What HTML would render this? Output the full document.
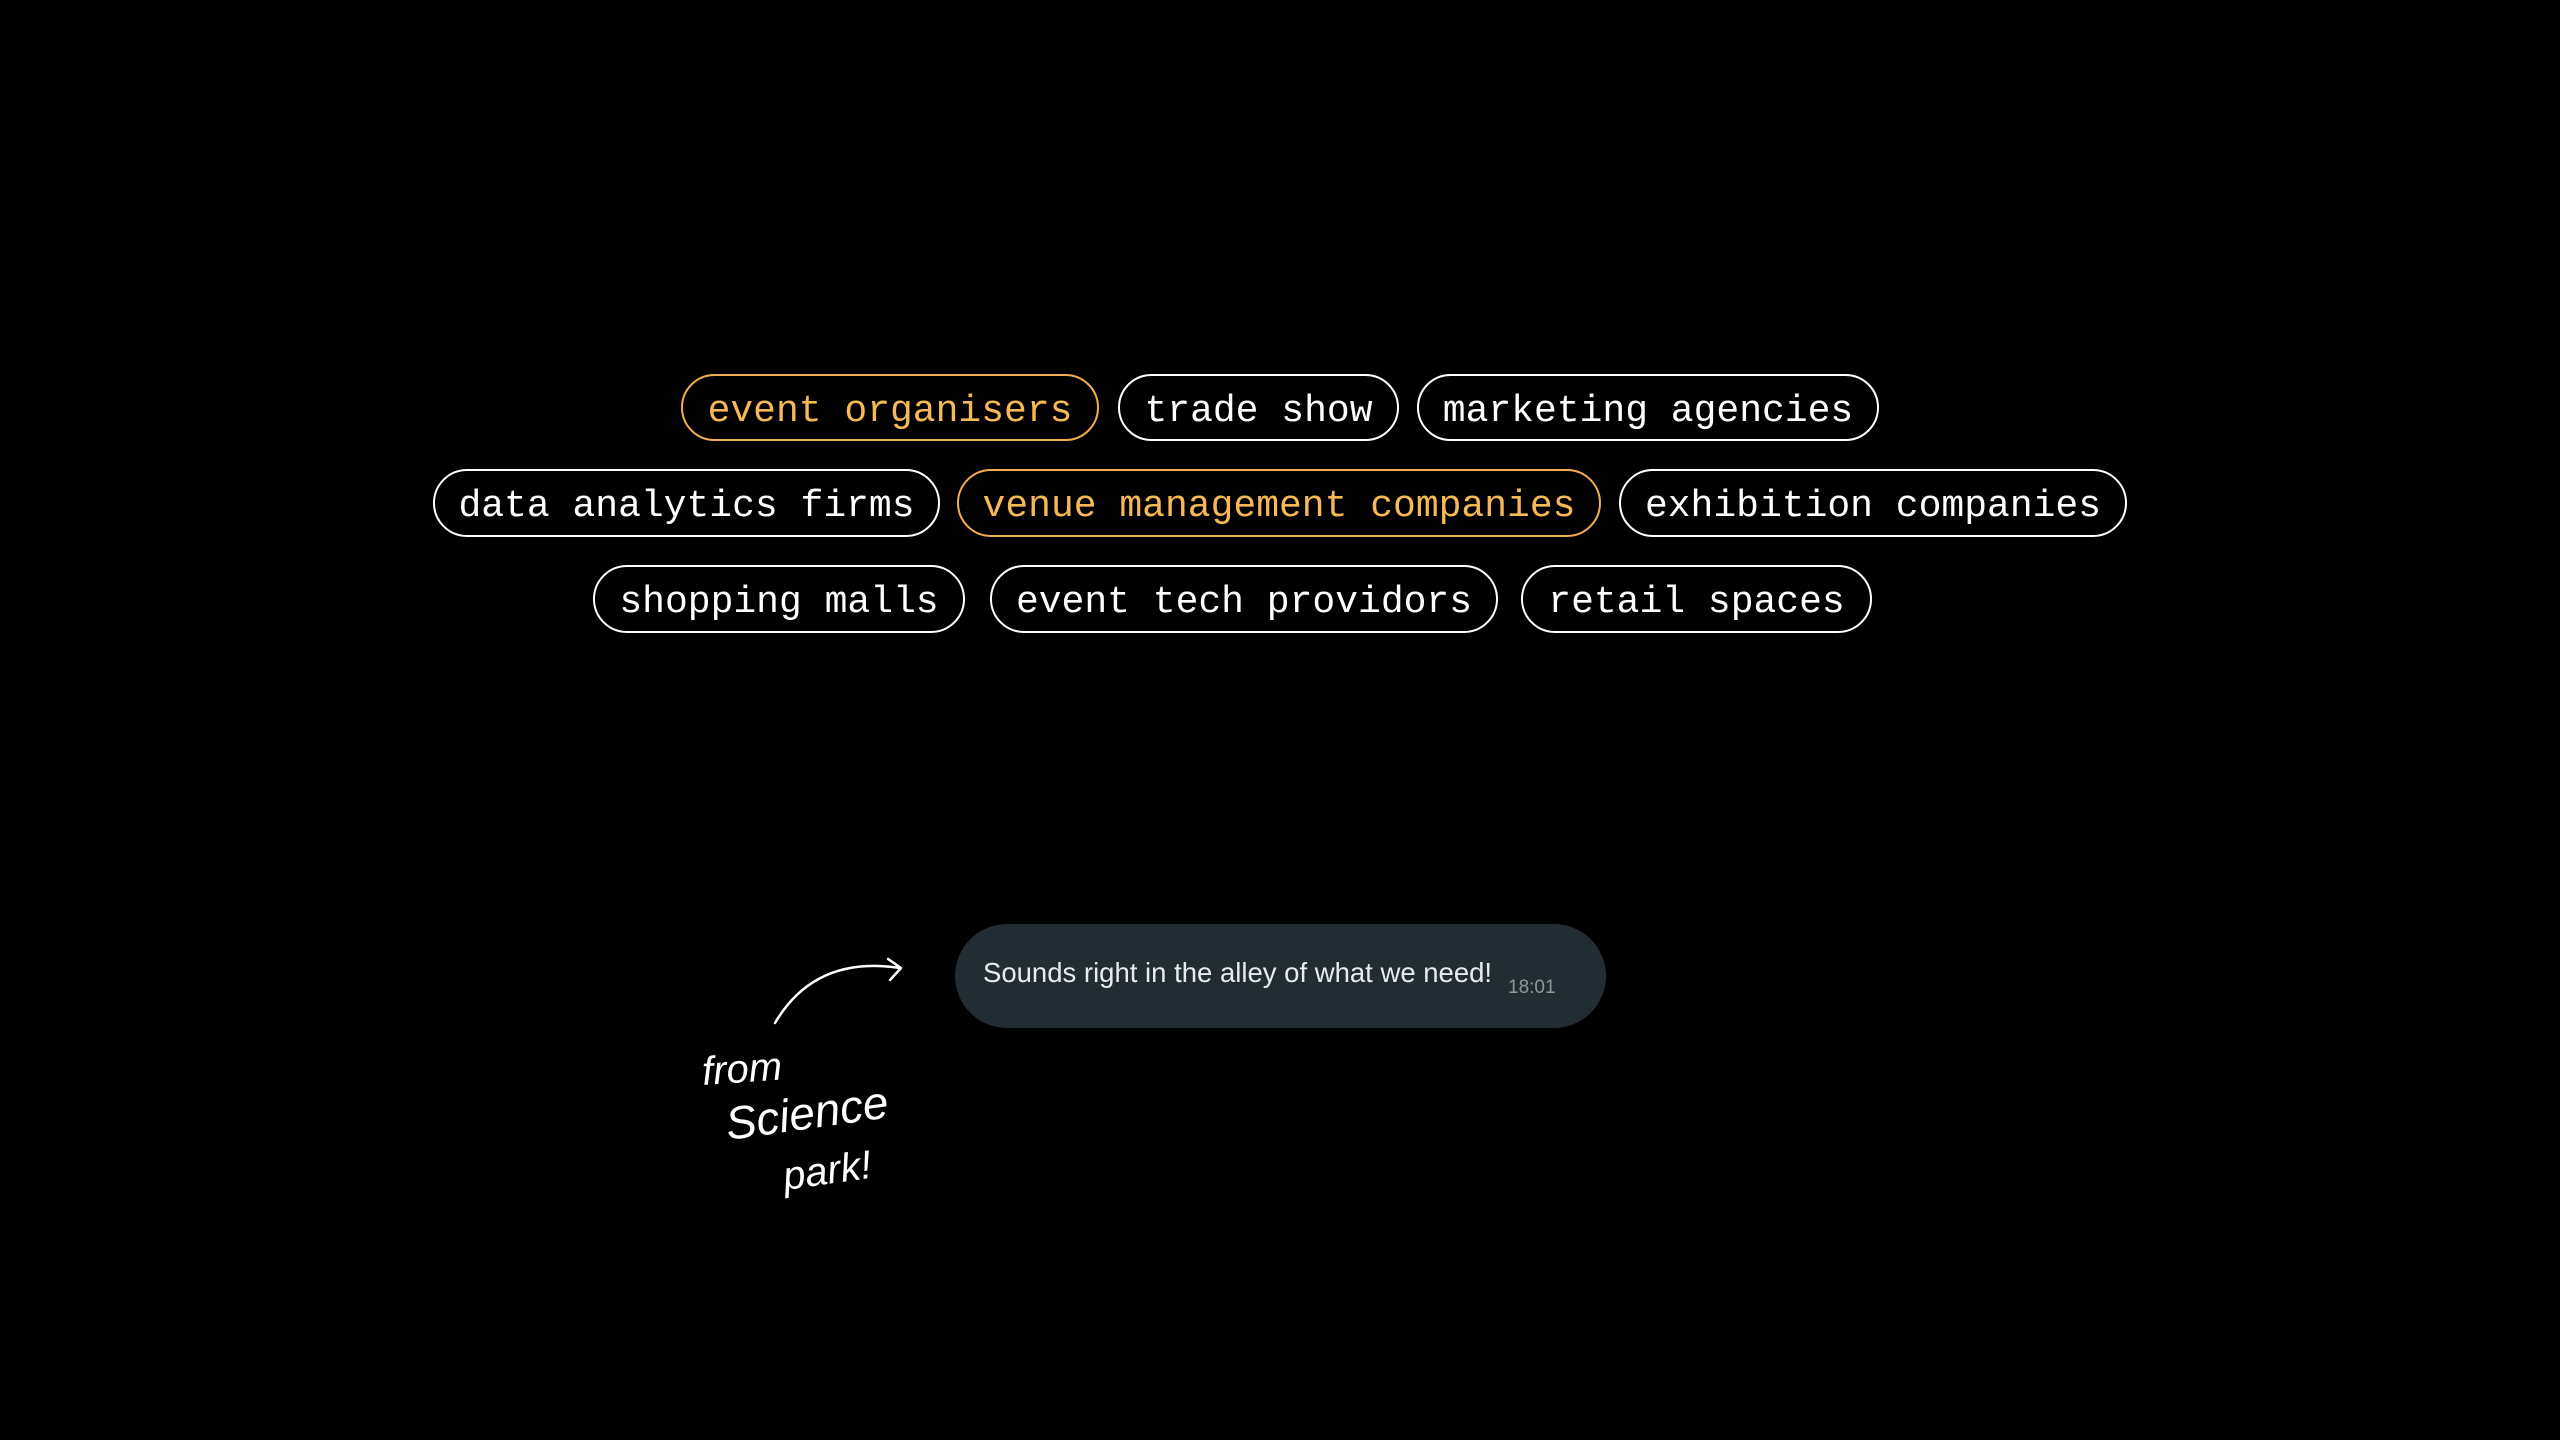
<!DOCTYPE html>
<html><head><meta charset="utf-8"><style>
html,body{margin:0;padding:0;background:#000;width:2560px;height:1440px;overflow:hidden;position:relative}
.p{position:absolute;box-sizing:border-box;border:2.5px solid #fff;border-radius:34px;color:#fff;font-family:"Liberation Mono","DejaVu Sans Mono",monospace;font-size:38px;display:flex;align-items:center;justify-content:center;white-space:pre;padding-top:7px}
.o{border-color:#f2ad52;color:#f7b955}
.b{position:absolute;left:955px;top:924px;width:651px;height:104px;background:#222d33;border-radius:52px}
.t{position:absolute;left:983px;top:957px;color:#e8ecee;font-family:"Liberation Sans",sans-serif;font-size:27.5px;white-space:nowrap}
.s{position:absolute;left:1508px;top:977px;color:#8c979c;font-family:"Liberation Sans",sans-serif;font-size:19px}
</style></head><body>
<div class="p o" style="left:681px;top:374px;width:418px;height:67px">event organisers</div>
<div class="p" style="left:1118px;top:374px;width:281px;height:67px">trade show</div>
<div class="p" style="left:1417px;top:374px;width:462px;height:67px">marketing agencies</div>
<div class="p" style="left:433px;top:469px;width:507px;height:68px">data analytics firms</div>
<div class="p o" style="left:957px;top:469px;width:644px;height:68px">venue management companies</div>
<div class="p" style="left:1619px;top:469px;width:508px;height:68px">exhibition companies</div>
<div class="p" style="left:593px;top:565px;width:372px;height:68px">shopping malls</div>
<div class="p" style="left:990px;top:565px;width:508px;height:68px">event tech providors</div>
<div class="p" style="left:1521px;top:565px;width:351px;height:68px">retail spaces</div>
<div class="b"></div>
<div class="t">Sounds right in the alley of what we need!</div>
<div class="s">18:01</div>
<svg width="2560" height="1440" style="position:absolute;left:0;top:0" xmlns="http://www.w3.org/2000/svg">
<path d="M775 1023 Q815 955 900 968" fill="none" stroke="#fff" stroke-width="2.5" stroke-linecap="round"/>
<path d="M888 959 L901 968 L890 980" fill="none" stroke="#fff" stroke-width="2.5" stroke-linecap="round" stroke-linejoin="round"/>
<g fill="#fff" font-family="Liberation Sans,sans-serif" font-style="italic">
<text x="703" y="1085" font-size="40" transform="rotate(-4 703 1085)">from</text>
<text x="728" y="1140" font-size="46" transform="rotate(-8 728 1140)">Science</text>
<text x="785" y="1190" font-size="40" transform="rotate(-8 785 1190)">park!</text>
</g>
</svg>
</body></html>
